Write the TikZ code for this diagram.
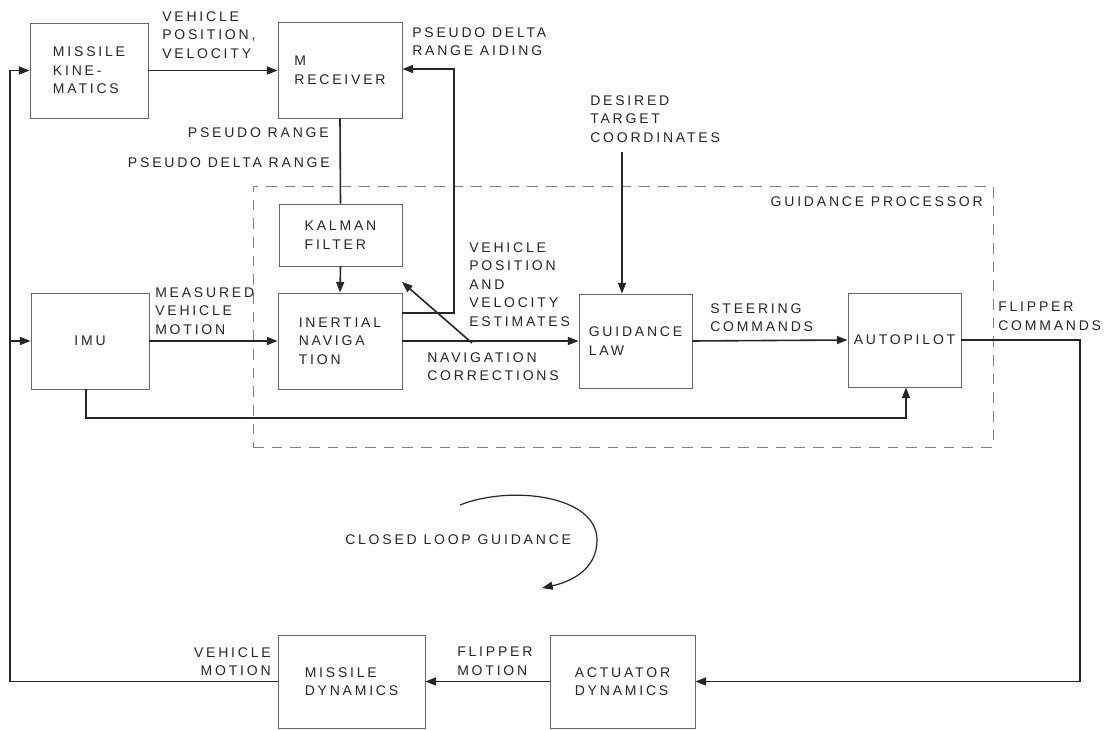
\documentclass[tikz,border=0pt]{standalone}
\usepackage{fontspec}
\setmainfont{Liberation Sans}[LetterSpace=20]
\usetikzlibrary{arrows.meta}
\begin{document}
\begin{tikzpicture}[x=0.75pt,y=-0.75pt,
  txt/.style={font=\fontsize{10.5}{13.9}\selectfont, text=black!85},
  bx/.style={txt, draw=black!60, line width=0.7pt, inner sep=0pt, align=left},
  lbl/.style={txt, inner sep=0pt, align=left},
  cn/.style={line width=1.2pt, draw=black!85},
  ar/.style={cn, -{Triangle[length=8pt,width=6pt]}},
  gpbox/.style={draw=black!50, line width=0.6pt, dash pattern=on 8pt off 6pt}]
\useasboundingbox (0,0) rectangle (1111,730);
\fill[white] (0,0) rectangle (1111,730);

% guidance processor boundary
\node[gpbox, minimum width=555pt, minimum height=195.75pt, inner sep=0pt] (gp) at (623,316.5) {};
\node[lbl, anchor=east] (gpl) at (983,202) {GUIDANCE PROCESSOR};

% blocks
\node[bx, minimum width=88.5pt, minimum height=71.25pt] (mk) at (89,70.5) {MISSILE\\KINE-\\MATICS};
\node[bx, minimum width=93pt, minimum height=72pt] (rcv) at (340,70) {M\\RECEIVER};
\node[bx, minimum width=92.25pt, minimum height=46.5pt] (kal) at (340.5,235) {KALMAN\\FILTER};
\node[bx, minimum width=88.5pt, minimum height=72pt] (imu) at (90,341) {IMU};
\node[bx, minimum width=93pt, minimum height=72pt] (ins) at (340,341) {INERTIAL\\NAVIGA\\TION};
\node[bx, minimum width=84.75pt, minimum height=70.5pt] (gl) at (635.5,341) {GUIDANCE\\LAW};
\node[bx, minimum width=84.75pt, minimum height=70.5pt] (ap) at (904.5,340) {AUTOPILOT};
\node[bx, minimum width=110.25pt, minimum height=69.75pt] (md) at (351.5,681.5) {MISSILE\\DYNAMICS};
\node[bx, minimum width=108.75pt, minimum height=69.75pt] (ad) at (622.5,681.5) {ACTUATOR\\DYNAMICS};

% coordinates
\coordinate (lb) at (10,681.5);
\coordinate (lt) at (10,70.5);
\coordinate (pa1) at (454,313);
\coordinate (pa2) at (454,69);
\coordinate (nc1) at (472,343);
\coordinate (nc2) at (402,282);
\coordinate (dt) at (622,152);
\coordinate (r1) at (1080,340);
\coordinate (r2) at (1080,681.5);
\coordinate (b1) at (86,418);
\coordinate (b2) at (906,418);
\coordinate (c1) at (460,505);
\coordinate (c2) at (597,540);
\coordinate (c3) at (542,588);

% connectors
\draw[ar] (mk.east) -- (rcv.west |- mk.east);
\draw[ar] (md.west) -- (lb) -- (lt) -- (mk.west);
\draw[ar] (lb |- imu.west) -- (imu.west);
\draw[cn] (rcv.south) -- (kal.north);
\draw[ar] (kal.south) -- (ins.north);
\draw[ar] (imu.east) -- (ins.west);
\draw[ar] (ins.east |- pa1) -- (pa1) -- (pa2) -- (rcv.east |- pa2);
\draw[ar] (ins.east) -- (gl.west);
\draw[ar] (nc1) -- (nc2);
\draw[ar] (dt) -- (dt |- gl.north);
\draw[ar] (gl.east) -- (ap.west);
\draw[ar] (ap.east) -- (r1) -- (r2) -- (ad.east);
\draw[ar] (ad.west) -- (md.east);
\draw[ar] (b1 |- imu.south) -- (b1) -- (b2) -- (b2 |- ap.south);
\draw[ar, line width=0.9pt] (c1) .. controls (510,485) and (597,495) .. (c2) .. controls (597,570) and (570,582) .. (c3);

% labels
\node[lbl, anchor=north west] (l1) at (162,11) {VEHICLE\\POSITION,\\VELOCITY};
\node[lbl, anchor=north west] (l2) at (412,27) {PSEUDO DELTA\\RANGE AIDING};
\node[lbl, anchor=east] (l3) at (329,133) {PSEUDO RANGE};
\node[lbl, anchor=east] (l4) at (330,163) {PSEUDO DELTA RANGE};
\node[lbl, anchor=north west] (l5) at (590,95) {DESIRED\\TARGET\\COORDINATES};
\node[lbl, anchor=north west] (l6) at (155,287) {MEASURED\\VEHICLE\\MOTION};
\node[lbl, anchor=north west] (l7) at (469,242) {VEHICLE\\POSITION\\AND\\VELOCITY\\ESTIMATES};
\node[lbl, anchor=north west] (l8) at (427,352) {NAVIGATION\\CORRECTIONS};
\node[lbl, anchor=north west] (l9) at (710,303) {STEERING\\COMMANDS};
\node[lbl, anchor=north west] (l10) at (998,302) {FLIPPER\\COMMANDS};
\node[lbl, anchor=north east, align=right] (l11) at (271,647) {VEHICLE\\MOTION};
\node[lbl, anchor=north west] (l12) at (457,647) {FLIPPER\\MOTION};
\node[lbl, anchor=west] (l13) at (345,540) {CLOSED LOOP GUIDANCE};
\end{tikzpicture}
\end{document}
